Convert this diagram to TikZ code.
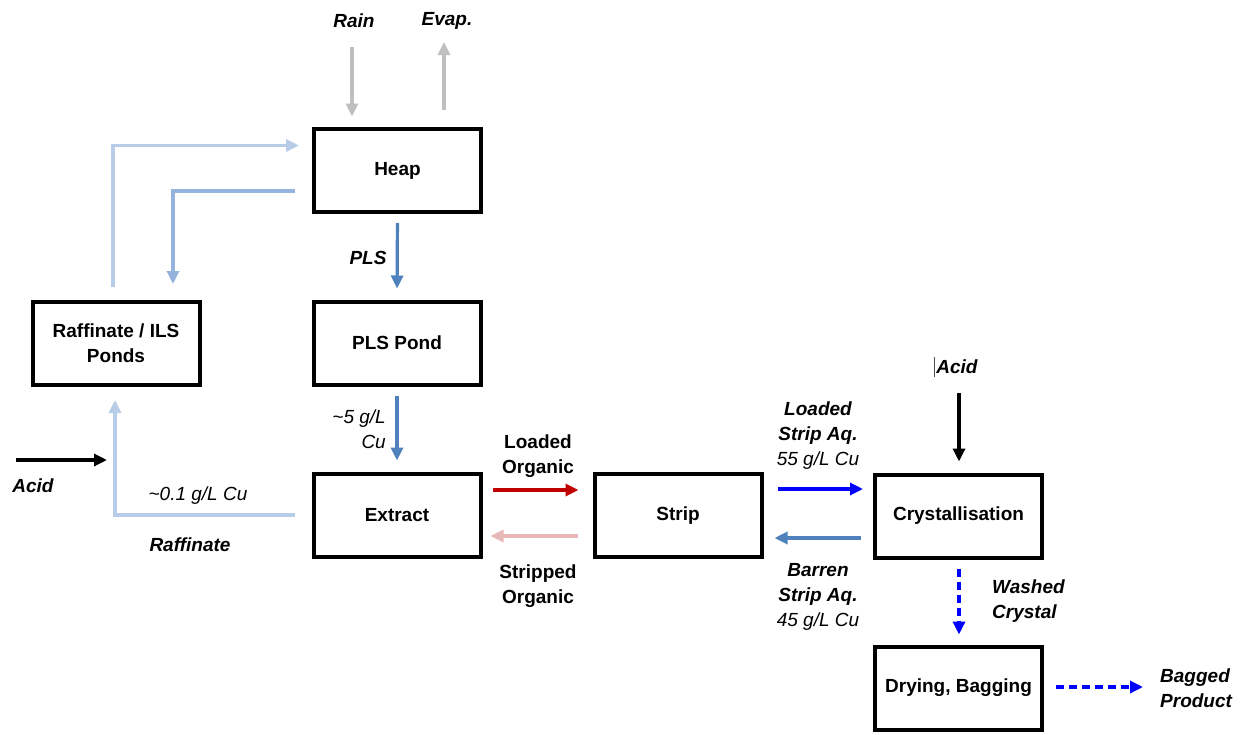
\documentclass[tikz,border=0pt]{standalone}
\usepackage{fontspec}
\setmainfont{Liberation Sans}
\usetikzlibrary{arrows.meta,calc}
\definecolor{lightflow}{HTML}{B7CCE6}
\definecolor{midflow}{HTML}{95B3DC}
\definecolor{steelflow}{HTML}{4F81BD}
\definecolor{pinkflow}{HTML}{E6B8B7}
\definecolor{redflow}{HTML}{C00000}
\definecolor{greyflow}{HTML}{BFBFBF}
\begin{document}
\begin{tikzpicture}[x=1pt,y=-1pt,
  every node/.style={font=\fontsize{19}{25}\selectfont},
  procbox/.style={draw=black,line width=4pt,minimum width=167pt,minimum height=83pt,inner sep=0pt,align=center,font=\fontsize{19}{25}\selectfont\bfseries},
  flow/.style={line width=3.2pt,-{Triangle[length=13pt,width=12pt]}},
  dashflow/.style={flow,dash pattern=on 8pt off 5pt},
  lbl/.style={inner sep=0pt,align=center},
  bilbl/.style={lbl,font=\fontsize{19}{25}\selectfont\bfseries\itshape},
  blbl/.style={lbl,font=\fontsize{19}{25}\selectfont\bfseries},
  ilbl/.style={lbl,font=\fontsize{19}{25}\selectfont\itshape}
]
\useasboundingbox (0,0) rectangle (1245,734);
\fill[white] (0,0) rectangle (1245,734);

% boxes
\node[procbox] (heap) at (397.5,170.5) {Heap};
\node[procbox] (pls) at (397,343) {PLS Pond};
\node[procbox] (raff) at (116,343.5) {Raffinate / ILS\\Ponds};
\node[procbox] (extract) at (397,515) {Extract};
\node[procbox] (strip) at (678,515.5) {Strip};
\node[procbox] (crys) at (958.5,516) {Crystallisation};
\node[procbox] (dry) at (958.5,688) {Drying, Bagging};

% free ends
\coordinate (rainS) at (352,47);
\coordinate (evapE) at (444,42);
\coordinate (acidLs) at (16,460);
\coordinate (acidLe) at (107,460);
\coordinate (acidTs) at (959,393);
\coordinate (bagE) at (1143,687);

% rain / evap
\draw[flow,greyflow,shorten >=10.5pt] (rainS) -- ([xshift=-45.5pt]heap.north);
\draw[flow,greyflow,shorten <=17pt] ([xshift=46.5pt]heap.north) -- (evapE);
\node[bilbl] (rainl) at (354,21) {Rain};
\node[bilbl] (evapl) at (447,21) {Evap.};

% raffinate -> heap
\draw[flow,lightflow,shorten <=13pt,shorten >=13pt] ([xshift=-3pt]raff.north) |- ([yshift=25pt]heap.west);
% heap -> raffinate
\draw[flow,midflow,shorten <=17pt,shorten >=16pt] ([yshift=-20.5pt]heap.west) -| ([xshift=57pt]raff.north);

% PLS
\draw[flow,steelflow,shorten <=9pt,shorten >=11pt] (heap.south) -- (pls.north);
\node[bilbl] (plsl) at (368,258) {PLS};
\draw[flow,steelflow,shorten <=9pt,shorten >=11pt] (pls.south) -- (extract.north);
\node[ilbl,anchor=east,align=right] (cu5) at (386,429.5) {\textasciitilde5 g/L\\Cu};

% raffinate return
\draw[flow,lightflow,shorten <=17pt,shorten >=13pt] (extract.west) -| ([xshift=-1pt]raff.south);
\draw[flow,black] (acidLs) -- (acidLe);
\node[bilbl] (acidl) at (33,486) {Acid};
\node[ilbl] (cu01) at (198,496) {\textasciitilde0.1 g/L Cu};
\node[bilbl] (raffl) at (190,545) {Raffinate};

% organic
\draw[flow,redflow,shorten <=10pt,shorten >=14pt] ([yshift=25pt]extract.east) -- ([yshift=25.5pt]strip.west);
\draw[flow,pinkflow,shorten <=15pt,shorten >=8pt] ([yshift=-20.5pt]strip.west) -- ([yshift=-21pt]extract.east);
\node[blbl] (lorg) at (538,456) {Loaded\\Organic};
\node[blbl] (sorg) at (538,586) {Stripped\\Organic};

% strip aqueous
\draw[flow,blue,shorten <=14pt,shorten >=10pt] ([yshift=26.5pt]strip.east) -- ([yshift=27pt]crys.west);
\draw[flow,steelflow,shorten <=12pt,shorten >=11pt] ([yshift=-22pt]crys.west) -- ([yshift=-22.5pt]strip.east);
\node[lbl] (lsaq) at (818,436) {\bfseries\itshape Loaded\\\bfseries\itshape Strip Aq.\\\itshape 55 g/L Cu};
\node[lbl] (bsaq) at (818,597) {\bfseries\itshape Barren\\\bfseries\itshape Strip Aq.\\\itshape 45 g/L Cu};

% acid to crystallisation
\draw[flow,black,shorten >=11pt] (acidTs) -- ([xshift=0.5pt]crys.north);
\node[bilbl] (acidt) at (957,367) {Acid};
\draw[line width=0.8pt,black!70] (934,357) -- (934,377);

% washed crystal
\draw[dashflow,blue,shorten <=9pt,shorten >=10pt] ([xshift=0.5pt]crys.south) -- ([xshift=0.5pt]dry.north);
\node[bilbl,anchor=west,align=left] (washl) at (992,601.5) {Washed\\Crystal};

% bagged product
\draw[dashflow,blue,shorten <=12pt] ([yshift=1pt]dry.east) -- (bagE);
\node[bilbl,anchor=west,align=left] (bagl) at (1160,688) {Bagged\\Product};
\end{tikzpicture}
\end{document}
